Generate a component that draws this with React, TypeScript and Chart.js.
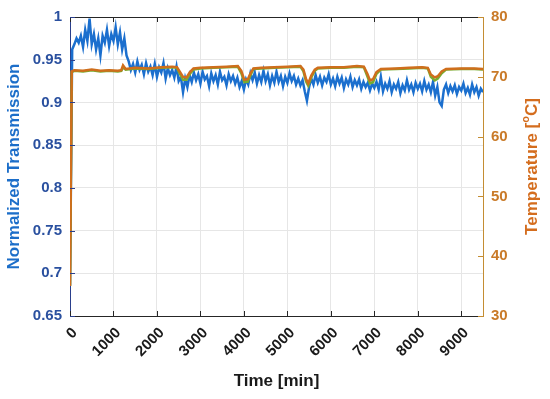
import { useEffect, useRef } from "react";
import { Chart, registerables } from "chart.js";
Chart.register(...registerables);

const FONT = "'Liberation Sans', Arial, Helvetica, sans-serif";

// X-axis tick values [min]
const xTickValues = [0, 1000, 2000, 3000, 4000, 5000, 6000, 7000, 8000, 9000];

// Sample times [min] for the transmission trace
const timeMin = [
  0, 50, 100, 150, 200, 250, 300, 350, 400, 450, 500, 550, 600, 650, 700, 750, 800, 850, 900, 950,
  1000, 1050, 1100, 1150, 1200, 1250, 1300, 1350, 1400, 1450, 1500, 1550, 1600, 1650, 1700, 1750, 1800, 1850, 1900, 1950,
  2000, 2050, 2100, 2150, 2200, 2250, 2300, 2350, 2400, 2450, 2500, 2550, 2600, 2650, 2700, 2750, 2800, 2850, 2900, 2950,
  3000, 3050, 3100, 3150, 3200, 3250, 3300, 3350, 3400, 3450, 3500, 3550, 3600, 3650, 3700, 3750, 3800, 3850, 3900, 3950,
  4000, 4050, 4100, 4150, 4200, 4250, 4300, 4350, 4400, 4450, 4500, 4550, 4600, 4650, 4700, 4750, 4800, 4850, 4900, 4950,
  5000, 5050, 5100, 5150, 5200, 5250, 5300, 5350, 5400, 5450, 5500, 5550, 5600, 5650, 5700, 5750, 5800, 5850, 5900, 5950,
  6000, 6050, 6100, 6150, 6200, 6250, 6300, 6350, 6400, 6450, 6500, 6550, 6600, 6650, 6700, 6750, 6800, 6850, 6900, 6950,
  7000, 7050, 7100, 7150, 7200, 7250, 7300, 7350, 7400, 7450, 7500, 7550, 7600, 7650, 7700, 7750, 7800, 7850, 7900, 7950,
  8000, 8050, 8100, 8150, 8200, 8250, 8300, 8350, 8400, 8450, 8500, 8550, 8600, 8650, 8700, 8750, 8800, 8850, 8900, 8950,
  9000, 9050, 9100, 9150, 9200, 9250, 9300, 9350, 9400, 9450, 9500,
];

// Normalized transmission (left axis)
const transmission = [
  0.686, 0.962, 0.968, 0.975, 0.970, 0.978, 0.965, 0.985, 0.972, 0.998, 0.968, 0.980, 0.962, 0.975, 0.955, 0.978, 0.970, 0.985, 0.966, 0.980,
  0.972, 0.988, 0.968, 0.982, 0.962, 0.975, 0.955, 0.948, 0.938, 0.945, 0.935, 0.948, 0.938, 0.944, 0.933, 0.946, 0.936, 0.942, 0.932, 0.945,
  0.930, 0.941, 0.935, 0.946, 0.928, 0.940, 0.932, 0.938, 0.929, 0.942, 0.925, 0.930, 0.912, 0.928, 0.918, 0.932, 0.924, 0.935, 0.926, 0.933,
  0.922, 0.936, 0.927, 0.931, 0.919, 0.934, 0.925, 0.932, 0.921, 0.936, 0.926, 0.930, 0.920, 0.933, 0.925, 0.931, 0.922, 0.929, 0.918, 0.925,
  0.915, 0.927, 0.921, 0.934, 0.926, 0.935, 0.922, 0.932, 0.924, 0.937, 0.925, 0.933, 0.920, 0.931, 0.923, 0.936, 0.924, 0.931, 0.919, 0.930,
  0.923, 0.934, 0.925, 0.931, 0.921, 0.928, 0.920, 0.926, 0.913, 0.902, 0.918, 0.928, 0.921, 0.932, 0.923, 0.930, 0.920, 0.929, 0.924, 0.933,
  0.921, 0.928, 0.919, 0.930, 0.922, 0.929, 0.917, 0.927, 0.921, 0.930, 0.918, 0.926, 0.920, 0.927, 0.916, 0.924, 0.918, 0.923, 0.914, 0.922,
  0.917, 0.924, 0.915, 0.930, 0.913, 0.922, 0.916, 0.925, 0.912, 0.921, 0.916, 0.924, 0.911, 0.920, 0.914, 0.926, 0.915, 0.921, 0.912, 0.923,
  0.916, 0.922, 0.913, 0.925, 0.915, 0.921, 0.912, 0.924, 0.908, 0.918, 0.900, 0.896, 0.915, 0.921, 0.911, 0.919, 0.913, 0.920, 0.910, 0.918,
  0.914, 0.922, 0.911, 0.917, 0.909, 0.921, 0.912, 0.918, 0.908, 0.916, 0.912,
];

// Temperature traces (right axis)
const tempTime = [
  0, 40, 100, 300, 500, 700, 900, 1100, 1180, 1220,
  1280, 1500, 1800, 2100, 2350, 2460, 2540, 2600, 2680, 2760,
  2840, 3000, 3300, 3600, 3860, 3940, 4010, 4090, 4160, 4220,
  4400, 4700, 5000, 5300, 5370, 5430, 5480, 5550, 5630, 5700,
  6000, 6300, 6600, 6760, 6840, 6900, 6970, 7050, 7150, 7500,
  7800, 8100, 8230, 8300, 8390, 8460, 8550, 8650, 9000, 9300,
  9500,
];
const temperature = [
  35.0, 70.9, 71.1, 71.0, 71.2, 71.0, 71.1, 71.0, 71.1, 71.9,
  71.3, 71.5, 71.4, 71.6, 71.7, 71.6, 70.7, 70.0, 69.9, 70.8,
  71.4, 71.5, 71.6, 71.7, 71.8, 71.0, 69.5, 69.6, 70.7, 71.4,
  71.5, 71.6, 71.7, 71.8, 71.2, 69.6, 68.9, 70.2, 71.2, 71.5,
  71.6, 71.6, 71.8, 71.7, 70.5, 69.4, 69.6, 70.8, 71.3, 71.4,
  71.5, 71.6, 71.5, 70.4, 69.9, 70.1, 70.9, 71.3, 71.4, 71.4,
  71.3,
];
const temperature2 = [
  35.0, 70.8, 71.0, 70.9, 71.1, 70.9, 71.0, 70.9, 71.0, 71.6,
  71.2, 71.4, 71.3, 71.5, 71.6, 71.5, 70.3, 69.5, 69.5, 70.5,
  71.2, 71.4, 71.5, 71.6, 71.7, 70.6, 69.1, 69.2, 70.4, 71.3,
  71.4, 71.5, 71.6, 71.7, 70.9, 69.2, 68.5, 69.9, 71.0, 71.4,
  71.5, 71.5, 71.7, 71.6, 70.1, 68.9, 69.1, 70.5, 71.2, 71.3,
  71.4, 71.5, 71.4, 70.0, 69.4, 69.7, 70.6, 71.2, 71.3, 71.3,
  71.2,
];

const xTitle = "Time [min]";
const yLeftTitle = "Normalized Transmission";

const LEFT_TICK = "#2a509f";
const LEFT_TITLE = "#1c6ec9";
const LEFT_AXIS = "#2a3f8c";
const RIGHT_TICK = "#c97a28";
const RIGHT_TITLE = "#d46d1e";
const RIGHT_AXIS = "#c48d33";
const GRID = "#e6e6e6";

const decor = {
  id: "decor",
  afterDraw(chart: any) {
    const { ctx, chartArea: a, scales } = chart;
    ctx.save();
    ctx.lineWidth = 1;
    ctx.strokeStyle = "#262626";
    ctx.beginPath();
    ctx.moveTo(a.left, Math.round(a.top) + 0.5);
    ctx.lineTo(a.right, Math.round(a.top) + 0.5);
    ctx.stroke();
    ctx.beginPath();
    scales.x.ticks.forEach((t: any) => {
      const px = Math.round(scales.x.getPixelForValue(t.value)) + 0.5;
      ctx.moveTo(px, a.bottom);
      ctx.lineTo(px, a.bottom - 5);
      ctx.moveTo(px, a.top);
      ctx.lineTo(px, a.top + 5);
    });
    ctx.stroke();
    ctx.strokeStyle = LEFT_AXIS;
    ctx.beginPath();
    scales.y.ticks.forEach((t: any) => {
      const py = Math.round(scales.y.getPixelForValue(t.value)) + 0.5;
      ctx.moveTo(a.left, py);
      ctx.lineTo(a.left + 5, py);
    });
    ctx.stroke();
    ctx.strokeStyle = RIGHT_AXIS;
    ctx.beginPath();
    scales.y1.ticks.forEach((t: any) => {
      const py = Math.round(scales.y1.getPixelForValue(t.value)) + 0.5;
      ctx.moveTo(a.right, py);
      ctx.lineTo(a.right - 5, py);
    });
    ctx.stroke();
    const big = `bold 17px ${FONT}`;
    const small = `bold 11px ${FONT}`;
    const p1 = "Temperature [";
    const p2 = "o";
    const p3 = "C]";
    ctx.font = big;
    const w1 = ctx.measureText(p1).width;
    const w3 = ctx.measureText(p3).width;
    ctx.font = small;
    const w2 = ctx.measureText(p2).width;
    const total = w1 + w2 + w3;
    ctx.translate(532, (a.top + a.bottom) / 2);
    ctx.rotate(-Math.PI / 2);
    ctx.fillStyle = RIGHT_TITLE;
    ctx.textBaseline = "middle";
    ctx.textAlign = "left";
    let x0 = -total / 2;
    ctx.font = big;
    ctx.fillText(p1, x0, 0);
    x0 += w1;
    ctx.font = small;
    ctx.fillText(p2, x0, -6);
    x0 += w2;
    ctx.font = big;
    ctx.fillText(p3, x0, 0);
    ctx.restore();
  },
};

export default function App() {
  const ref = useRef<HTMLCanvasElement>(null);
  useEffect(() => {
    const blue = timeMin.map((t, i) => ({ x: t, y: transmission[i] }));
    const orange = tempTime.map((t, i) => ({ x: t, y: temperature[i] }));
    const green = tempTime.map((t, i) => ({ x: t, y: temperature2[i] }));
    const chart = new Chart(ref.current!, {
      type: "line",
      data: {
        datasets: [
          { data: blue, yAxisID: "y", borderColor: "#1b6fce", borderWidth: 2.5, pointRadius: 0, order: 3, tension: 0 },
          { data: green, yAxisID: "y1", borderColor: "#77ac30", borderWidth: 2.5, pointRadius: 0, order: 2, tension: 0 },
          { data: orange, yAxisID: "y1", borderColor: "#cf6e1c", borderWidth: 2.5, pointRadius: 0, order: 1, tension: 0 },
        ],
      },
      options: {
        responsive: false,
        animation: false,
        layout: { padding: { top: 16, left: 0, right: 0, bottom: 0 } },
        plugins: { legend: { display: false }, tooltip: { enabled: false } },
        scales: {
          x: {
            type: "linear",
            min: 0,
            max: 9500,
            afterFit: (s: any) => { s.height = 83; },
            afterBuildTicks: (s: any) => { s.ticks = xTickValues.map((v) => ({ value: v })); },
            grid: { color: GRID, drawTicks: false },
            border: { color: "#262626", width: 1 },
            ticks: {
              autoSkip: false,
              minRotation: 45,
              maxRotation: 45,
              padding: 8,
              labelOffset: 5,
              color: "#1a1a1a",
              font: { family: FONT, size: 15, weight: "bold" },
              callback: (v: any) => String(v),
            },
            title: {
              display: true,
              text: xTitle,
              color: "#1a1a1a",
              font: { family: FONT, size: 17, weight: "bold" },
              padding: { top: 0, bottom: 7 },
            },
          },
          y: {
            position: "left",
            min: 0.65,
            max: 1,
            afterFit: (s: any) => { s.width = 70; },
            grid: { color: GRID, drawTicks: false },
            border: { color: LEFT_AXIS, width: 1 },
            ticks: {
              stepSize: 0.05,
              padding: 8,
              color: LEFT_TICK,
              font: { family: FONT, size: 15, weight: "bold" },
              callback: (v: any) => String(Number(Number(v).toFixed(2))),
            },
            title: {
              display: true,
              text: yLeftTitle,
              color: LEFT_TITLE,
              font: { family: FONT, size: 17, weight: "bold" },
              padding: { top: 4, bottom: 0 },
            },
          },
          y1: {
            position: "right",
            min: 30,
            max: 80,
            afterFit: (s: any) => { s.width = 67; },
            grid: { display: false, drawTicks: false },
            border: { color: RIGHT_AXIS, width: 1 },
            ticks: {
              stepSize: 10,
              padding: 8,
              color: RIGHT_TICK,
              font: { family: FONT, size: 15, weight: "bold" },
            },
          },
        },
      },
      plugins: [decor],
    } as any);
    return () => chart.destroy();
  }, []);
  return (
    <div style={{ position: "absolute", left: 0, top: 0, width: 550, height: 399, background: "#fff" }}>
      <canvas ref={ref} width={550} height={399} style={{ display: "block" }} />
    </div>
  );
}
